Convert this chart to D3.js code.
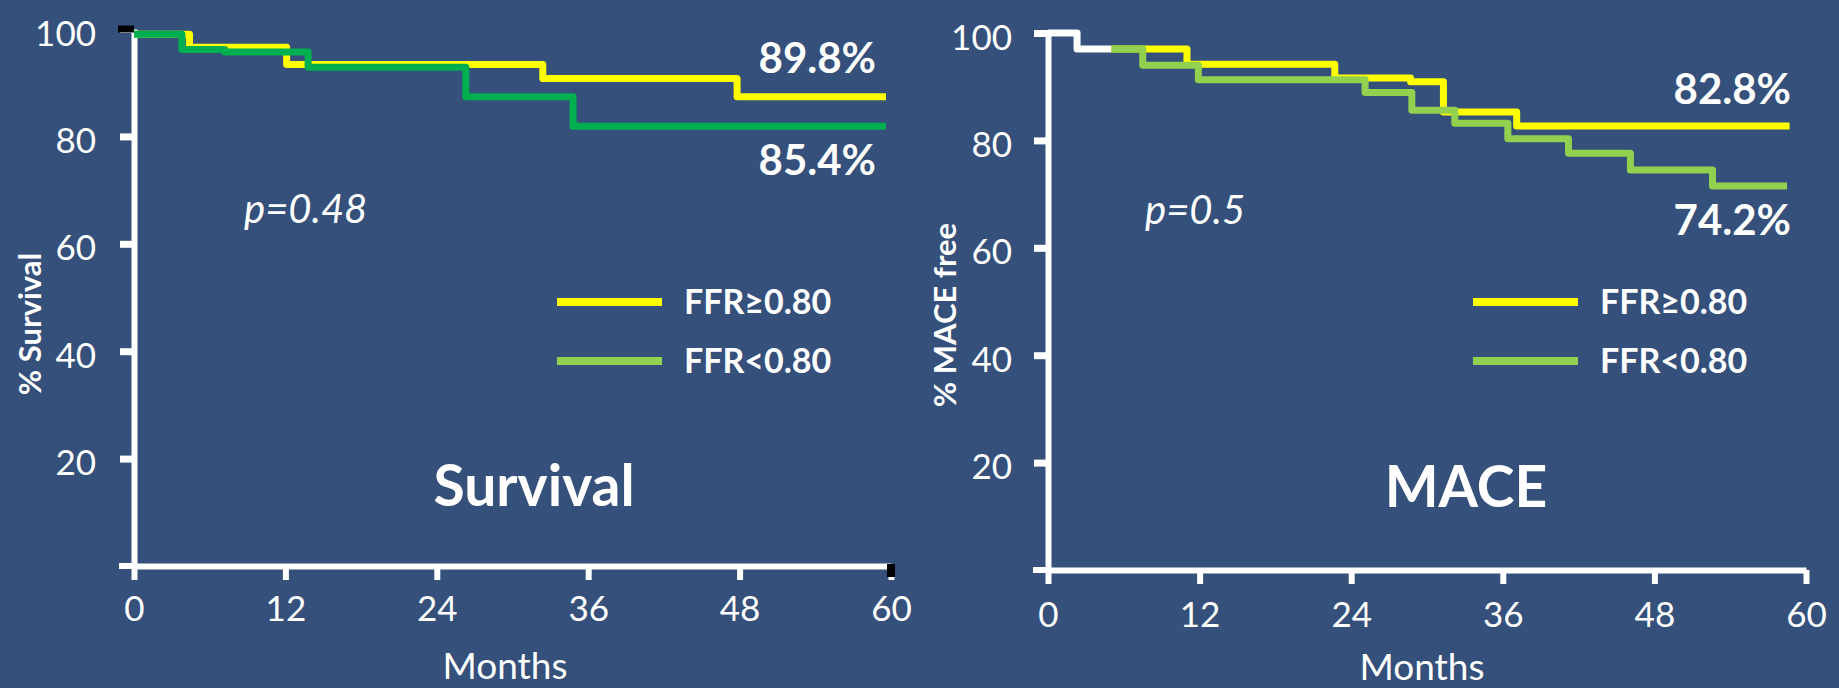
<!DOCTYPE html>
<html>
<head>
<meta charset="utf-8">
<script src="https://cdn.jsdelivr.net/npm/d3@7"></script>
<style>
  html, body { margin: 0; padding: 0; background: #34507b; }
  svg { display: block; }
  text { font-family: Lato, "Open Sans", sans-serif; fill: #ffffff; }
</style>
</head>
<body>
<svg id="chart" width="1839" height="688"></svg>
<script>
// ---------- data ----------
const monthTicks = [0, 12, 24, 36, 48, 60];
const pctTicks = [20, 40, 60, 80, 100];
const seriesNames = ["FFR\u22650.80", "FFR<0.80"];

// Survival panel (Kaplan-Meier steps: time in months, % survival)
const survHighT = [0, 4.4, 12.1, 32.4, 47.8, 59.6];
const survHighV = [99, 96.6, 93.4, 90.8, 87.4, 87.4];
const survLowT  = [0, 3.8, 7.2, 13.8, 26.3, 34.8, 59.6];
const survLowV  = [99, 96.2, 95.7, 92.9, 87.4, 81.9, 81.9];

// MACE panel (% MACE free)
const maceCommonT = [0, 2.3, 5.0];
const maceCommonV = [100, 97.0, 97.0];
const maceHighT = [5.0, 11.0, 22.7, 28.7, 31.3, 37.1, 58.7];
const maceHighV = [97.0, 94.2, 91.6, 90.9, 85.3, 82.7, 82.7];
const maceLowT  = [5.0, 7.5, 11.9, 25.1, 28.8, 32.2, 36.4, 41.2, 46.1, 52.6, 58.5];
const maceLowV  = [97.0, 94.0, 91.3, 88.9, 85.6, 83.2, 80.3, 77.6, 74.5, 71.5, 71.5];

const survEndLabels = ["89.8%", "85.4%"];
const maceEndLabels = ["82.8%", "74.2%"];
const pValues = ["p=0.48", "p=0.5"];
const panelTitles = ["Survival", "MACE"];
const yTitles = ["% Survival", "% MACE free"];
const xTitle = "Months";

// ---------- drawing ----------
const svg = d3.select("#chart");
const YELLOW = "#ffff00", DGREEN = "#00b050", LGREEN = "#92d050";

function zip(t, v) { return t.map((d, i) => ({ t: d, v: v[i] })); }

function drawPanel(p) {
  const x = d3.scaleLinear().domain([0, 60]).range(p.xr);
  const y = d3.scaleLinear().domain([0, 100]).range(p.yr);
  const g = svg.append("g");
  const tick = 14;

  // y axis
  const ya = g.append("g").attr("transform", `translate(${x(0)},0)`)
    .call(d3.axisLeft(y).tickValues(pctTicks).tickSize(tick).tickSizeOuter(0).tickPadding(p.yPad));
  ya.select(".domain").attr("stroke", "#fff").attr("stroke-width", 6);
  ya.selectAll(".tick line").attr("stroke", "#fff").attr("stroke-width", 7);
  ya.selectAll(".tick text").attr("font-size", 35).attr("dy", "0.46em").style("fill", "#fff");

  // x axis
  const xa = g.append("g").attr("transform", `translate(0,${y(0)})`)
    .call(d3.axisBottom(x).tickValues(monthTicks).tickSize(tick).tickSizeOuter(0).tickPadding(p.xPad));
  xa.select(".domain").attr("stroke", "#fff").attr("stroke-width", 6);
  xa.selectAll(".tick line").attr("stroke", "#fff").attr("stroke-width", 6);
  xa.selectAll(".tick text").attr("font-size", 35).style("fill", "#fff");
  // axis line extends to the left under the y ticks
  g.append("line").attr("x1", x(0) - tick - 1).attr("x2", x(0)).attr("y1", y(0)).attr("y2", y(0))
    .attr("stroke", "#fff").attr("stroke-width", 6);

  if (p.blackMarks) {
    g.append("rect").attr("x", x(0) - 16).attr("y", y(100) - 3.5).attr("width", 16).attr("height", 7).attr("fill", "#000");
    g.append("rect").attr("x", x(60) - 4).attr("y", y(0) - 2).attr("width", 8).attr("height", 13).attr("fill", "#000");
  }

  const line = d3.line().x(d => x(d.t)).y(d => y(d.v)).curve(d3.curveStepAfter);
  p.series.forEach(s => {
    g.append("path").datum(s.data).attr("d", line)
      .attr("fill", "none").attr("stroke", s.color).attr("stroke-width", 7)
      .attr("stroke-linejoin", "round");
  });

  // end labels
  g.append("text").attr("x", p.endX).attr("y", p.endY[0]).attr("text-anchor", "end")
    .attr("font-size", 42).attr("font-weight", "bold").text(p.endLabels[0]);
  g.append("text").attr("x", p.endX).attr("y", p.endY[1]).attr("text-anchor", "end")
    .attr("font-size", 42).attr("font-weight", "bold").text(p.endLabels[1]);

  // p value
  g.append("text").attr("x", p.pX).attr("y", p.pY).attr("font-size", 40)
    .attr("font-style", "italic").attr("font-weight", "normal").text(p.pText);

  // legend
  const legColors = [YELLOW, LGREEN];
  [0, 1].forEach(i => {
    const ly = p.legY + i * 59;
    g.append("line").attr("x1", p.legX).attr("x2", p.legX + 105).attr("y1", ly).attr("y2", ly)
      .attr("stroke", legColors[i]).attr("stroke-width", 8);
    g.append("text").attr("x", p.legX + 127).attr("y", ly + 12).attr("font-size", 34)
      .attr("font-weight", "bold").text(seriesNames[i]);
  });

  // panel title
  g.append("text").attr("x", p.titleX).attr("y", p.titleY).attr("text-anchor", "middle")
    .attr("font-size", 57).attr("font-weight", "bold").text(p.title);

  // x title
  g.append("text").attr("x", p.xtX).attr("y", p.xtY).attr("text-anchor", "middle")
    .attr("font-size", 37).text(xTitle);

  // y title
  g.append("text").attr("transform", `translate(${p.ytX},${p.ytY}) rotate(-90)`)
    .attr("text-anchor", "middle").attr("font-size", 31).attr("font-weight", "bold").text(p.yTitle);
}

drawPanel({
  xr: [134, 891], yr: [566, 29], yPad: 24, xPad: 16, blackMarks: true,
  series: [
    { data: zip(survHighT, survHighV), color: YELLOW },
    { data: zip(survLowT, survLowV), color: DGREEN }
  ],
  endLabels: survEndLabels, endX: 876, endY: [73, 175],
  pText: pValues[0], pX: 244, pY: 223,
  legX: 557, legY: 302,
  title: panelTitles[0], titleX: 534, titleY: 506,
  xtX: 505, xtY: 679,
  yTitle: yTitles[0], ytX: 41, ytY: 324
});

drawPanel({
  xr: [1048, 1806], yr: [570, 33], yPad: 22, xPad: 18, blackMarks: false,
  series: [
    { data: zip(maceHighT, maceHighV), color: YELLOW },
    { data: zip(maceLowT, maceLowV), color: LGREEN },
    { data: zip(maceCommonT, maceCommonV), color: "#ffffff" }
  ],
  endLabels: maceEndLabels, endX: 1791, endY: [104, 235],
  pText: pValues[1], pX: 1145, pY: 224,
  legX: 1473, legY: 302,
  title: panelTitles[1], titleX: 1466, titleY: 507,
  xtX: 1422, xtY: 680,
  yTitle: yTitles[1], ytX: 956, ytY: 315
});
</script>
</body>
</html>
